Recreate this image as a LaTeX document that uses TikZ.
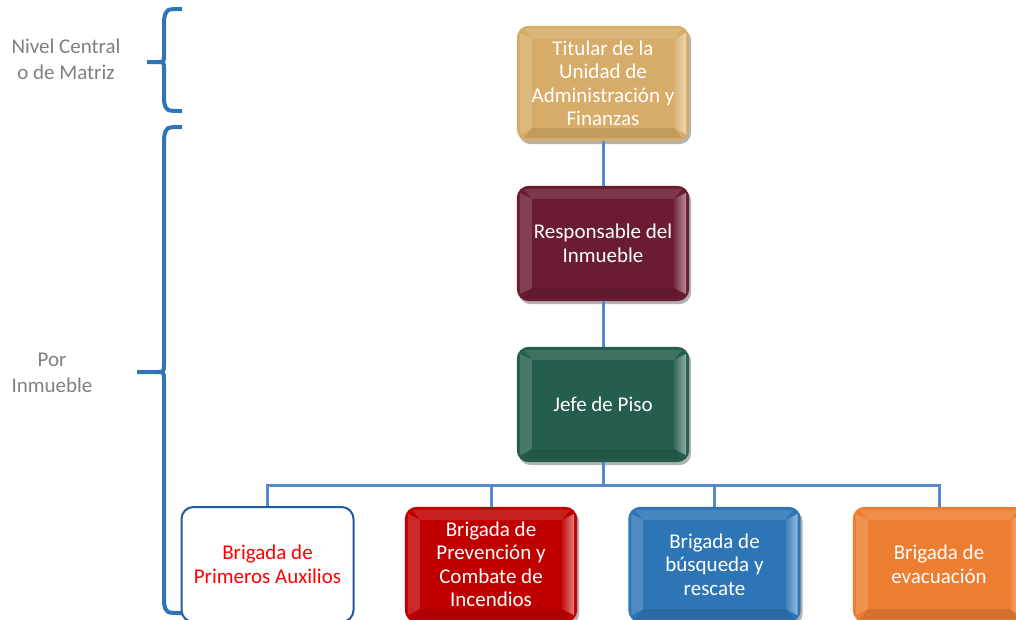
\documentclass[tikz,border=0pt]{standalone}
\usepackage{fontspec}
\setmainfont{Carlito}
\usetikzlibrary{calc,backgrounds}
\definecolor{tan}{RGB}{214,172,104}
\definecolor{maroon}{RGB}{107,28,50}
\definecolor{dgreen}{RGB}{37,94,78}
\definecolor{bred}{RGB}{192,0,0}
\definecolor{bblue}{RGB}{46,117,182}
\definecolor{borange}{RGB}{237,125,49}
\definecolor{conn}{RGB}{84,138,200}
\definecolor{brace}{RGB}{46,117,182}
\definecolor{lbl}{RGB}{128,128,128}
\definecolor{wbord}{RGB}{31,92,153}
\tikzset{
  box/.style={minimum width=172pt, minimum height=115pt, inner sep=0pt,
    text=white, align=center, font=\fontsize{21}{23.5}\selectfont},
  wbox/.style={box, draw=wbord, line width=2pt, rounded corners=12pt, fill=white, text=red},
  lab/.style={text=lbl, align=center, font=\fontsize{21}{26}\selectfont},
  link/.style={draw=conn, line width=3pt},
  bracestyle/.style={draw=brace, line width=4pt, line join=round}
}
\newcommand\bevel[2]{%
  \path (#1.north west) coordinate (nw) (#1.north east) coordinate (ne)
        (#1.south west) coordinate (sw) (#1.south east) coordinate (se);
  \fill[black!30, rounded corners=12pt] ($(nw)+(2,3)$) rectangle ($(se)+(2,3)$);
  \fill[#2, rounded corners=12pt] (nw) rectangle (se);
  \fill[#2!88!white] ($(nw)+(7,3)$) -- ($(ne)+(-7,3)$) -- ($(ne)+(-15,13)$) -- ($(nw)+(15,13)$) -- cycle;
  \fill[#2!84!white] ($(nw)+(3,7)$) -- ($(nw)+(15,13)$) -- ($(sw)+(15,-13)$) -- ($(sw)+(3,-7)$) -- cycle;
  \shade[left color=#2!92!white, right color=#2!50!white] ($(ne)+(-3,7)$) -- ($(ne)+(-15,13)$) -- ($(se)+(-15,-13)$) -- ($(se)+(-3,-7)$) -- cycle;
  \fill[#2!90!black] ($(sw)+(7,-3)$) -- ($(se)+(-7,-3)$) -- ($(se)+(-15,-13)$) -- ($(sw)+(15,-13)$) -- cycle;
  \fill[#2] ($(nw)+(15,13)$) rectangle ($(se)+(-15,-13)$);
}
\begin{document}
\begin{tikzpicture}[x=1pt,y=-1pt]
\useasboundingbox (0,0) rectangle (1016,619);
\clip (0,0) rectangle (1016,619);
% nodes
\node[box] (t) at (603,83.5) {Titular de la\\Unidad de\\Administración y\\Finanzas};
\node[box] (r) at (603,243.5) {Responsable del\\Inmueble};
\node[box] (j) at (603,404.5) {Jefe de Piso};
\node[wbox] (b1) at (267.5,564.5) {Brigada de\\Primeros Auxilios};
\node[box] (b2) at (491,564.5) {Brigada de\\Prevención y\\Combate de\\Incendios};
\node[box] (b3) at (714.5,564.5) {Brigada de\\búsqueda y\\rescate};
\node[box] (b4) at (939,564.5) {Brigada de\\evacuación};
\begin{scope}[on background layer]
\bevel{t}{tan}
\bevel{r}{maroon}
\bevel{j}{dgreen}
\bevel{b2}{bred}
\bevel{b3}{bblue}
\bevel{b4}{borange}
\end{scope}
% connectors
\begin{scope}[on background layer]
\draw[link] (t.south) -- (r.north);
\draw[link] (r.south) -- (j.north);
\coordinate (bus) at (603,485);
\draw[link] (j.south) -- (bus);
\draw[link] (bus) -| (b1.north);
\draw[link] (bus) -| (b2.north);
\draw[link] (bus) -| (b3.north);
\draw[link] (bus) -| (b4.north);
\end{scope}
% labels
\node[lab] (l1) at (66,59) {Nivel Central\\o de Matriz};
\node[lab] (l2) at (52,373) {Por\\Inmueble};
% braces
\draw[bracestyle] (182,9) .. controls (166,9) .. (164,20) -- (164,55) .. controls (164,62) .. (157,62) -- (147,62);
\draw[bracestyle] (157,62) .. controls (164,62) .. (164,69) -- (164,101) .. controls (166,111) .. (182,111);
\draw[bracestyle] (182,127) .. controls (166,127) .. (164,138) -- (164,364) .. controls (164,372) .. (156,372) -- (137,372);
\draw[bracestyle] (156,372) .. controls (164,372) .. (164,380) -- (164,603) .. controls (166,613) .. (182,613);
\end{tikzpicture}
\end{document}
